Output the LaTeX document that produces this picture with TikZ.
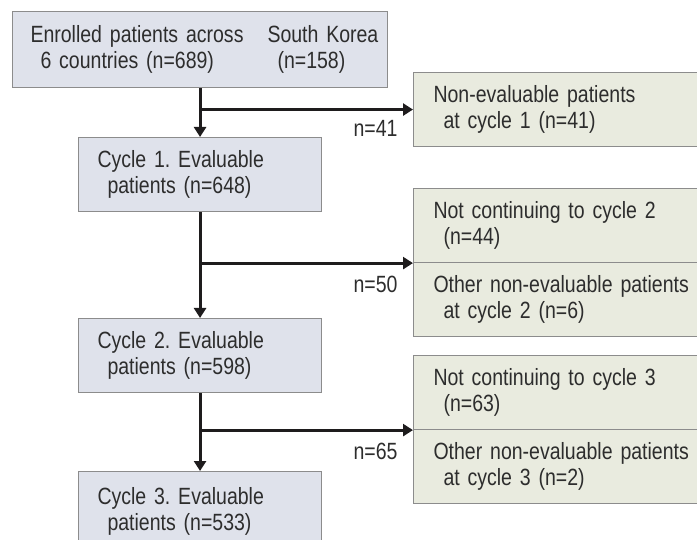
\documentclass[tikz,border=0pt]{standalone}
\usepackage{fontspec}
\setmainfont{Liberation Sans}[FakeStretch=0.83]
\usetikzlibrary{arrows.meta}
\definecolor{lfill}{RGB}{223,226,235}
\definecolor{rfill}{RGB}{233,235,223}
\definecolor{bord}{RGB}{140,140,140}
\definecolor{txt}{RGB}{45,45,45}
\definecolor{ln}{RGB}{30,28,29}
\frenchspacing
\begin{document}
\begin{tikzpicture}[x=1pt,y=-1pt,
 box/.style={draw=bord, line width=1.1pt, rectangle, anchor=north west, align=left, inner ysep=0pt, text=txt, font=\fontsize{23.5}{26.5}\selectfont},
 lbox/.style={box, fill=lfill, minimum height=74pt, minimum width=243pt, text width=205pt, inner xsep=19pt},
 rbox/.style={box, fill=rfill, minimum width=300pt, text width=260pt, inner xsep=20pt, minimum height=74pt},
 arr/.style={draw=ln, line width=3pt, -{Triangle[width=12pt,length=10pt]}},
 lbl/.style={anchor=base east, text=txt, font=\fontsize{23.5}{26.5}\selectfont}]
\clip (0,0) rectangle (697,540);
\node[lbox, minimum width=375pt, text width=339pt, inner xsep=18pt, minimum height=76pt] (top) at (12,11)
  {\mbox{\makebox[237pt][l]{Enrolled patients across}South Korea}\\\mbox{\makebox[237pt][l]{\hspace*{10pt}6 countries (n=689)}\hspace*{10pt}(n=158)}};
\node[lbox] (c1) at (78,137) {Cycle 1. Evaluable\\\hspace*{10pt}patients (n=648)};
\node[lbox] (c2) at (78,318) {Cycle 2. Evaluable\\\hspace*{10pt}patients (n=598)};
\node[lbox, minimum height=80pt] (c3) at (78,471) {Cycle 3. Evaluable\\\hspace*{10pt}patients (n=533)};
\node[rbox] (r1) at (413,72) {Non-evaluable patients\\\hspace*{10pt}at cycle 1 (n=41)};
\node[rbox] (r2a) at (413,188) {Not continuing to cycle 2\\\hspace*{10pt}(n=44)};
\node[rbox] (r2b) at (413,262) {Other non-evaluable patients\\\hspace*{10pt}at cycle 2 (n=6)};
\node[rbox] (r3a) at (413,355) {Not continuing to cycle 3\\\hspace*{10pt}(n=63)};
\node[rbox] (r3b) at (413,429) {Other non-evaluable patients\\\hspace*{10pt}at cycle 3 (n=2)};
\draw[arr] (top.south) -- (c1.north);
\draw[arr] (top.south |- r1.west) -- (r1.west);
\draw[arr] (c1.south) -- (c2.north);
\draw[arr] (c1.south |- r2a.south west) -- (r2a.south west);
\draw[arr] (c2.south) -- (c3.north);
\draw[arr] (c2.south |- r3a.south west) -- (r3a.south west);
\node[lbl] (n41) at (401,137) {n=41};
\node[lbl] (n50) at (401,293) {n=50};
\node[lbl] (n65) at (401,460) {n=65};
\end{tikzpicture}
\end{document}
